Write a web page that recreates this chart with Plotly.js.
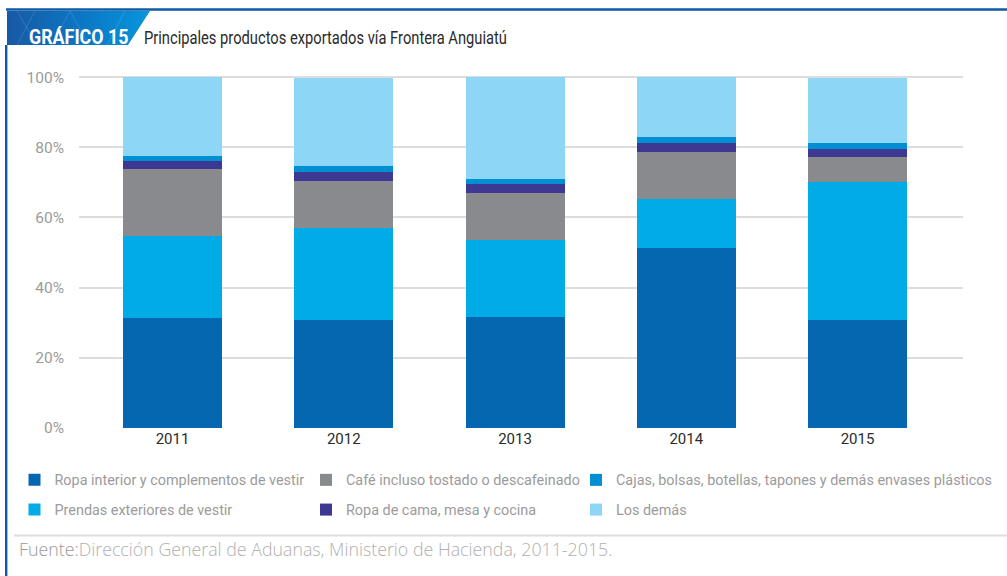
<!DOCTYPE html>
<html>
<head>
<meta charset="utf-8">
<script src="https://cdn.plot.ly/plotly-3.0.1.min.js"></script>
<style>
html,body{margin:0;padding:0;background:#fff;}
#chart{width:1007px;height:576px;}
</style>
</head>
<body>
<div id="chart"></div>
<script>
// ---- data ----
var years = ['2011', '2012', '2013', '2014', '2015'];
var ropaInterior = [31.4, 30.9, 31.5, 51.3, 30.9];
var prendas = [23.3, 26.0, 22.0, 13.9, 39.1];
var cafe = [19.0, 13.6, 13.4, 13.6, 7.1];
var ropaCama = [2.5, 2.6, 2.5, 2.5, 2.5];
var cajas = [1.4, 1.7, 1.7, 1.7, 1.7];
var losDemas = [22.4, 24.9, 28.9, 17.0, 18.4];
var seriesNames = [
  'Ropa interior y complementos de vestir',
  'Prendas exteriores de vestir',
  'Café incluso tostado o descafeinado',
  'Ropa de cama, mesa y cocina',
  'Cajas, bolsas, botellas, tapones y demás envases plásticos',
  'Los demás'
];
var yTickVals = [0, 20, 40, 60, 80, 100];
var titleText = 'Principales productos exportados vía Frontera Anguiatú';
var badgeText = 'GRÁFICO 15';
var sourceLabel = 'Fuente:';
var sourceText = 'Dirección General de Aduanas, Ministerio de Hacienda, 2011-2015.';

// ---- styling ----
var COND = 'Roboto, "Liberation Sans", sans-serif';
var colors = ['#0467b0', '#00abe6', '#898a8e', '#3d3993', '#008fd3', '#8dd6f5'];
var seriesData = [ropaInterior, prendas, cafe, ropaCama, cajas, losDemas];
var legendFor = ['legend', 'legend', 'legend2', 'legend2', 'legend3', 'legend3'];

// plot area in pixels
var L = 79, R = 963, T = 75, B = 428, W = 1007, H = 576;
function px(x) { return (x - L) / (R - L); }
function py(y) { return (B - y) / (B - T); }

var traces = seriesData.map(function (vals, i) {
  return {
    type: 'bar',
    x: years,
    y: vals,
    name: seriesNames[i],
    marker: { color: colors[i], line: { width: 0 } },
    legend: legendFor[i],
    legendgroup: 'g' + i,
    hoverinfo: 'name+y'
  };
});

var legendFont = { family: COND, size: 14.4, color: '#9b9b9b' };
function mkLegend(xpx) {
  return {
    x: px(xpx), xref: 'paper', xanchor: 'left',
    y: py(464), yref: 'paper', yanchor: 'top',
    orientation: 'v',
    traceorder: 'grouped',
    tracegroupgap: 8,
    bgcolor: 'rgba(0,0,0,0)',
    borderwidth: 0,
    font: legendFont,
    itemclick: false, itemdoubleclick: false
  };
}

var bannerSvg = "<svg xmlns='http://www.w3.org/2000/svg' width='143' height='34' viewBox='0 0 143 34'>" +
  "<defs><linearGradient id='g' x1='0' y1='0' x2='1' y2='0'>" +
  "<stop offset='0' stop-color='#1859a5'/><stop offset='0.55' stop-color='#0a79c6'/><stop offset='1' stop-color='#0795dc'/>" +
  "</linearGradient></defs>" +
  "<polygon points='0,0 143,0 121,34 0,34' fill='url(#g)'/>" +
  "<g stroke='#ffffff' stroke-opacity='0.18' stroke-width='0.8' fill='none'>" +
  "<polyline points='10,0 30,34'/><polyline points='45,34 63,0 82,34'/><polyline points='100,34 118,0'/><polyline points='28,0 10,34'/>" +
  "</g></svg>";
var bannerSrc = 'data:image/svg+xml;charset=utf-8,' + encodeURIComponent(bannerSvg);

var layout = {
  width: W, height: H,
  margin: { l: L, r: W - R, t: T, b: H - B, pad: 0, autoexpand: false },
  paper_bgcolor: '#ffffff',
  plot_bgcolor: '#ffffff',
  barmode: 'stack',
  bargap: 0.422,
  showlegend: true,
  font: { family: COND, size: 15, color: '#333333' },
  xaxis: {
    type: 'category',
    range: [-0.546, 4.616],
    showgrid: false,
    showline: false,
    zeroline: false,
    ticks: '',
    automargin: false,
    tickfont: { family: COND, size: 15, color: '#2b2b2b' },
    fixedrange: true
  },
  yaxis: {
    range: [0, 100.6],
    tickvals: yTickVals,
    ticktext: yTickVals.map(function (v) { return v + '%'; }),
    showgrid: true,
    gridcolor: '#dcdcdc',
    gridwidth: 2,
    zeroline: false,
    showline: false,
    ticks: '',
    automargin: false,
    ticklabelstandoff: 14,
    tickfont: { family: COND, size: 15.5, color: '#9b9b9b' },
    fixedrange: true
  },
  legend: mkLegend(14.5),
  legend2: mkLegend(306),
  legend3: mkLegend(576),
  images: [{
    source: bannerSrc,
    xref: 'paper', yref: 'paper',
    x: px(7), y: py(11), sizex: 143 / (R - L), sizey: 34 / (B - T),
    xanchor: 'left', yanchor: 'top', sizing: 'stretch', layer: 'above'
  }],
  shapes: [
    // top border
    { type: 'line', xref: 'paper', yref: 'paper', x0: px(6), x1: px(1008), y0: py(9.5), y1: py(9.5),
      line: { color: '#0f5aa6', width: 2.6 } },
    // left border
    { type: 'line', xref: 'paper', yref: 'paper', x0: px(6.2), x1: px(6.2), y0: py(45), y1: py(577),
      line: { color: '#0f5aa6', width: 2.4 } },
    // footer separator
    { type: 'line', xref: 'paper', yref: 'paper', x0: px(14), x1: px(1008), y0: py(535.5), y1: py(535.5),
      line: { color: '#dedede', width: 2 } }
  ],
  annotations: [
    { text: '<b>' + badgeText + '</b>', xref: 'paper', yref: 'paper', x: px(27), y: py(37),
      xanchor: 'left', yanchor: 'middle', align: 'left', showarrow: false,
      font: { family: COND, size: 21, color: '#ffffff' } },
    { text: titleText, xref: 'paper', yref: 'paper', x: px(142), y: py(38),
      xanchor: 'left', yanchor: 'middle', align: 'left', showarrow: false,
      font: { family: COND, size: 17.5, color: '#2a2a2a' } },
    { text: '<span style="color:#9a9a9a">' + sourceLabel + '</span>' + sourceText,
      xref: 'paper', yref: 'paper', x: px(17), y: py(549),
      xanchor: 'left', yanchor: 'middle', align: 'left', showarrow: false,
      font: { family: '"Open Sans", Roboto, sans-serif', size: 17.8, color: '#b0b0b0', weight: 300 } }
  ]
};

// condensed look for the DIN-style headings (no condensed face installed)
function squeeze(el, f) {
  var w = el.getComputedTextLength();
  el.setAttribute('textLength', (w * f).toFixed(1));
  el.setAttribute('lengthAdjust', 'spacingAndGlyphs');
}

Plotly.newPlot('chart', traces, layout, { displayModeBar: false, staticPlot: true }).then(function (gd) {
  gd.querySelectorAll('text.annotation-text').forEach(function (t) {
    var s = t.textContent;
    if (s === titleText) squeeze(t, 0.84);
    else if (s === badgeText) squeeze(t, 0.85);
  });
});
</script>
</body>
</html>
